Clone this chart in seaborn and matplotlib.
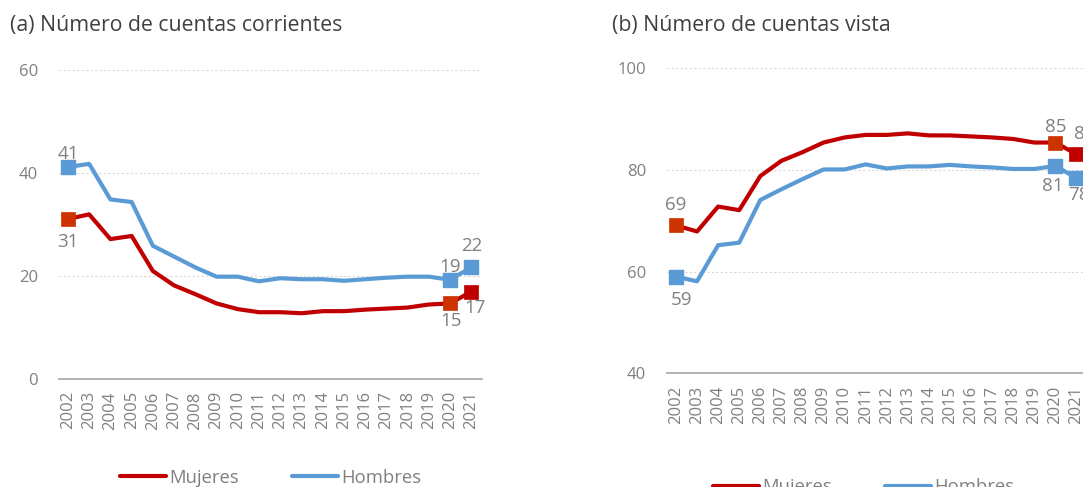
import numpy as np
import pandas as pd
import matplotlib
matplotlib.use("Agg")
import matplotlib.pyplot as plt
import seaborn as sns

years = list(range(2002, 2022))
corr_mujeres = [31.0, 31.9, 27.1, 27.7, 20.9, 18.1, 16.4, 14.6, 13.5, 12.9,
                12.9, 12.7, 13.1, 13.1, 13.4, 13.6, 13.8, 14.4, 14.6, 16.9]
corr_hombres = [41.1, 41.7, 34.8, 34.3, 25.8, 23.7, 21.6, 19.8, 19.8, 18.9,
                19.5, 19.3, 19.3, 19.0, 19.3, 19.6, 19.8, 19.8, 19.2, 21.6]
vista_mujeres = [69.1, 67.9, 72.8, 72.1, 78.8, 81.8, 83.5, 85.4, 86.4, 86.9,
                 86.9, 87.2, 86.8, 86.8, 86.6, 86.4, 86.1, 85.4, 85.4, 83.1]
vista_hombres = [59.0, 58.1, 65.2, 65.7, 74.1, 76.2, 78.2, 80.1, 80.1, 81.1,
                 80.3, 80.7, 80.7, 81.0, 80.7, 80.5, 80.2, 80.2, 80.8, 78.4]
series_names = ["Mujeres", "Hombres"]
titles = ["(a) Número de cuentas corrientes", "(b) Número de cuentas vista"]

RED = "#C00000"
BLUE = "#5B9BD5"
MK_RED = "#CC3300"
GRAY = "#808080"
TXT = "#404040"

sns.set_theme(style="white")
plt.rcParams["font.family"] = ["Open Sans", "DejaVu Sans"]

fig = plt.figure(figsize=(10.83, 4.87), dpi=100)
ax1 = fig.add_axes([0.0545, 0.2225, 0.3905, 0.6345])
ax2 = fig.add_axes([0.6160, 0.2335, 0.3877, 0.6262])


def make_df(m, h):
    return pd.DataFrame({
        "year": years * 2,
        "value": m + h,
        "serie": ["Mujeres"] * len(years) + ["Hombres"] * len(years),
    })


def draw(ax, m, h, ylim, yticks, labels, title, legend_x, legend_y):
    df = make_df(m, h)
    sns.lineplot(data=df, x="year", y="value", hue="serie",
                 palette={"Mujeres": RED, "Hombres": BLUE}, linewidth=3,
                 ax=ax, legend=False)
    idx = [0, 18, 19]
    mcolors = [MK_RED, MK_RED, RED]
    for i, c in zip(idx, mcolors):
        ax.scatter(years[i], m[i], marker="s", s=110, color=c, zorder=5,
                   edgecolors=c, linewidths=0.5)
        ax.scatter(years[i], h[i], marker="s", s=110, color=BLUE, zorder=5)
    for (serie, i, dx, dy, ha, va) in labels:
        vals = m if serie == "Mujeres" else h
        ax.annotate(f"{round(vals[i])}", (years[i], vals[i]),
                    xytext=(dx, dy), textcoords="offset points",
                    ha=ha, va=va, fontsize=13.5, color=GRAY)
    ax.set_xlim(2001.58, 2021.5)
    ax.set_ylim(*ylim)
    ax.set_yticks(yticks)
    ax.set_xticks(years)
    ax.set_xticklabels([str(y) for y in years], rotation=90)
    ax.tick_params(axis="both", labelsize=12, labelcolor=GRAY, length=0)
    ax.tick_params(axis="x", pad=9)
    ax.tick_params(axis="y", pad=15)
    ax.grid(axis="y", color="#D9D9D9", linestyle=(0, (2, 2)), linewidth=0.8)
    for s in ["top", "right", "left"]:
        ax.spines[s].set_visible(False)
    ax.spines["bottom"].set_color("#A6A6A6")
    ax.spines["bottom"].set_linewidth(1.2)
    ax.set_xlabel("")
    ax.set_ylabel("")
    handles = [plt.Line2D([], [], color=RED, linewidth=3),
               plt.Line2D([], [], color=BLUE, linewidth=3)]
    ax.legend(handles, series_names, loc="center", ncol=2,
              bbox_to_anchor=(legend_x, legend_y), frameon=False, fontsize=13.3,
              labelcolor=GRAY, handlelength=2.5, handletextpad=0.15,
              columnspacing=2.9)


draw(ax1, corr_mujeres, corr_hombres, (0, 60), [0, 20, 40, 60],
     [("Hombres", 0, 0, 3, "center", "bottom"),
      ("Mujeres", 0, 0, -10, "center", "top"),
      ("Hombres", 18, 0, 3, "center", "bottom"),
      ("Hombres", 19, 0, 9, "center", "bottom"),
      ("Mujeres", 18, 1, -6, "center", "top"),
      ("Mujeres", 19, 3, -5, "center", "top")],
     titles[0], 0.5, -0.32)
draw(ax2, vista_mujeres, vista_hombres, (40, 100), [40, 60, 80, 100],
     [("Mujeres", 0, 0, 8, "center", "bottom"),
      ("Hombres", 0, 4, -10, "center", "top"),
      ("Mujeres", 18, 0, 5, "center", "bottom"),
      ("Mujeres", 19, 6, 8, "center", "bottom"),
      ("Hombres", 18, -2, -8, "center", "top"),
      ("Hombres", 19, 2, -6, "center", "top")],
     titles[1], 0.468, -0.373)

fig.text(10 / 1083, 1 - 25 / 487, titles[0], fontsize=15.3, color=TXT,
         ha="left", va="center")
fig.text(612 / 1083, 1 - 25 / 487, titles[1], fontsize=15.3, color=TXT,
         ha="left", va="center")

fig.savefig("out.png", dpi=100)
